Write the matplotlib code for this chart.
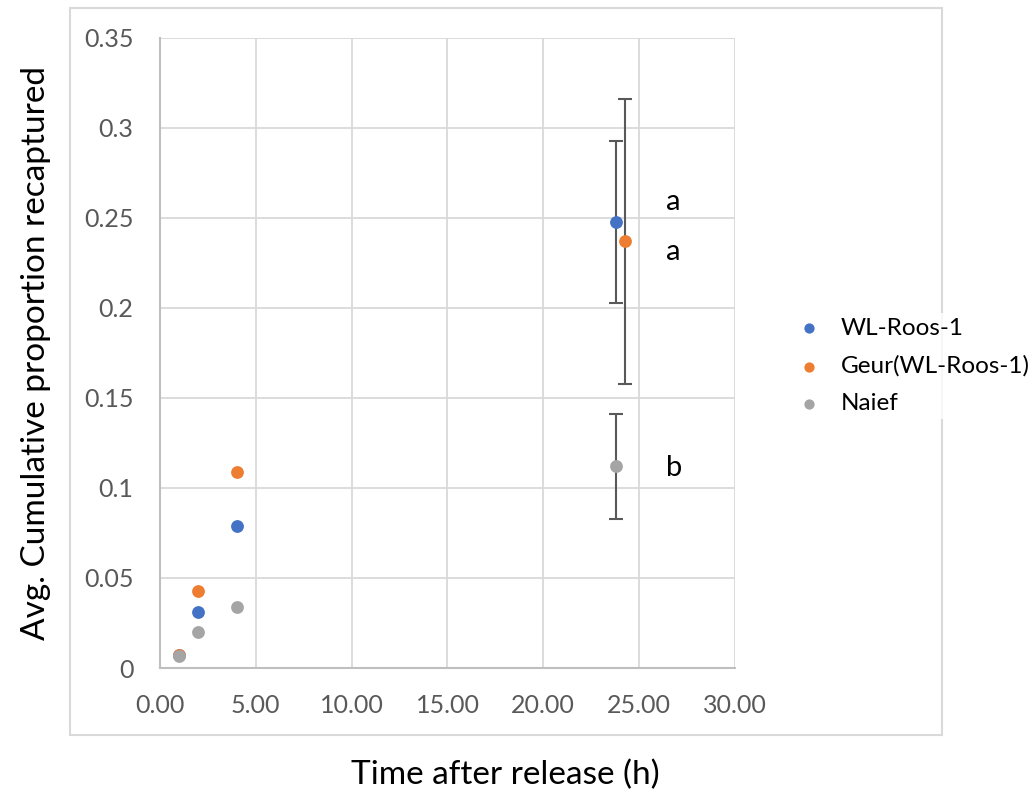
import matplotlib.pyplot as plt
from matplotlib.patches import Rectangle

plt.rcParams['font.family'] = ['Lato', 'DejaVu Sans']

hours = [1, 2, 4]
roos = [0.007, 0.031, 0.079]
geur = [0.007, 0.043, 0.109]
naief = [0.0067, 0.020, 0.034]

# 24 h points, slightly offset in x as in the original
x24 = [23.8, 24.25, 23.8]
y24 = [0.248, 0.237, 0.112]
err24 = [0.045, 0.079, 0.029]

letters = ['a', 'a', 'b']
letter_y = [0.259, 0.231, 0.111]

names = ['WL-Roos-1', 'Geur(WL-Roos-1)', 'Naief']
colors = ['#4472C4', '#ED7D31', '#A5A5A5']

fig = plt.figure(figsize=(10.34, 7.96), dpi=100)
ax = fig.add_axes([0.1547, 0.1608, 0.5561, 0.7915])

# outer chart border
fig.patches.append(Rectangle((70 / 1034, 1 - 735 / 796), 872 / 1034, 727 / 796,
                             transform=fig.transFigure, fill=False,
                             edgecolor='#d9d9d9', linewidth=1.5, zorder=-1))

for i in range(3):
    ax.errorbar(x24[i], y24[i], yerr=err24[i], fmt='none', ecolor='#595959',
                elinewidth=1.5, capsize=5, capthick=1.5, zorder=2)
for i, ys in enumerate([roos, geur, naief]):
    ax.scatter(hours + [x24[i]], ys + [y24[i]], s=85, color=colors[i],
               label=names[i], zorder=3, linewidths=0)

for t, yy in zip(letters, letter_y):
    ax.text(26.4, yy, t, fontsize=21, va='center', ha='left', color='black')

ax.set_xlim(0, 30)
ax.set_ylim(0, 0.35)
ax.set_xticks([0, 5, 10, 15, 20, 25, 30])
ax.set_xticklabels(['%.2f' % v for v in [0, 5, 10, 15, 20, 25, 30]])
ax.set_yticks([0, 0.05, 0.1, 0.15, 0.2, 0.25, 0.3, 0.35])
ax.set_yticklabels(['0', '0.05', '0.1', '0.15', '0.2', '0.25', '0.3', '0.35'])
ax.tick_params(length=0, labelsize=18, labelcolor='#595959')
ax.tick_params(axis='y', pad=19)
ax.tick_params(axis='x', pad=19)
ax.grid(True, color='#d9d9d9', linewidth=1.3)
ax.set_axisbelow(True)
for s in ['top', 'right']:
    ax.spines[s].set_visible(False)
for s in ['left', 'bottom']:
    ax.spines[s].set_color('#bfbfbf')
    ax.spines[s].set_linewidth(1.5)

ax.set_xlabel('Time after release (h)', fontsize=24)
ax.xaxis.set_label_coords(0.6, -0.145)
ax.set_ylabel('Avg. Cumulative proportion recaptured', fontsize=24, labelpad=24)

leg = ax.legend(loc='center left', bbox_to_anchor=(0.752, 0.54),
                bbox_transform=fig.transFigure, frameon=True, fontsize=17.5,
                handletextpad=0.7, labelspacing=0.68, borderpad=0.2,
                handlelength=1.2, markerscale=0.8)
leg.get_frame().set_edgecolor('none')
leg.get_frame().set_facecolor('white')

fig.savefig('out.png', dpi=100)
